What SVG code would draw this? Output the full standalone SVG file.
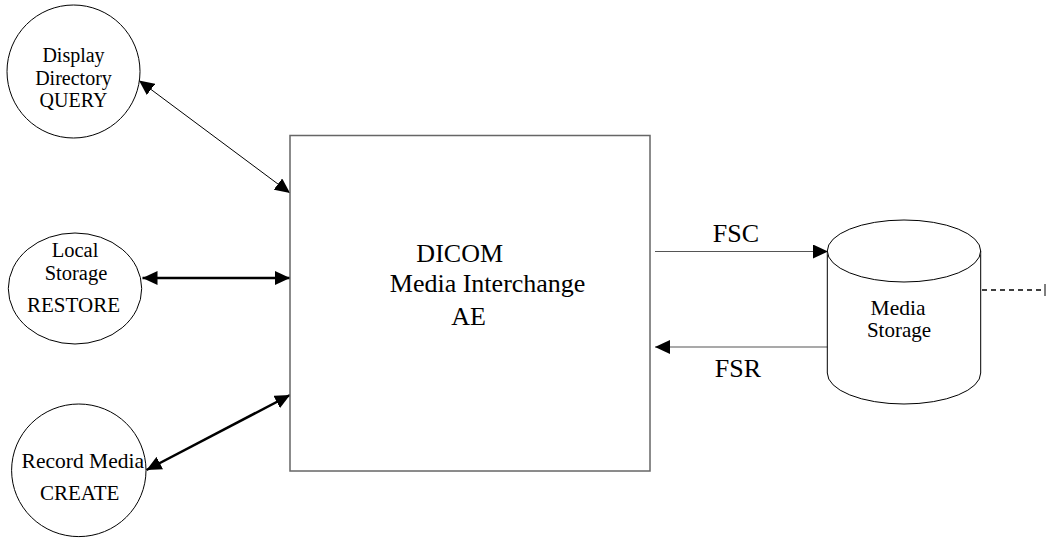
<svg xmlns="http://www.w3.org/2000/svg" width="1050" height="540" viewBox="0 0 1050 540">
<style>
  .node { fill: #fff; stroke: #000; stroke-width: 1; }
  .box { fill: #fff; stroke: #666; stroke-width: 1.5; }
  .t { font-family: "Liberation Serif", "Times New Roman", serif; fill: #000; text-anchor: middle; }
  .thin { stroke: #000; stroke-width: 1; fill: none; }
  .thick { stroke: #000; stroke-width: 2.5; fill: none; }
  .gray { stroke: #555; stroke-width: 1.2; fill: none; }
</style>
<defs>
  <marker id="ah" markerUnits="userSpaceOnUse" markerWidth="16" markerHeight="14" refX="15" refY="7" orient="auto-start-reverse">
    <path d="M0,0 L15,7 L0,14 z" fill="#000"/>
  </marker>
</defs>
<rect width="1050" height="540" fill="#fff"/>

<g id="connectors">
  <line class="thin" x1="139" y1="80.5" x2="290" y2="193" marker-start="url(#ah)" marker-end="url(#ah)"/>
  <line class="thick" x1="142.5" y1="278" x2="290" y2="278" marker-start="url(#ah)" marker-end="url(#ah)"/>
  <line class="thick" x1="146.5" y1="470" x2="290" y2="395" marker-start="url(#ah)" marker-end="url(#ah)"/>
  <line class="gray" x1="655" y1="251.5" x2="828" y2="251.5" marker-end="url(#ah)"/>
  <line class="gray" x1="828" y1="347" x2="655" y2="347" marker-end="url(#ah)"/>
  <line x1="982" y1="290" x2="1044" y2="290" stroke="#000" stroke-width="1.5" stroke-dasharray="5,4"/>
  <line x1="1045" y1="284" x2="1045" y2="296" stroke="#000" stroke-width="1"/>
  <text class="t" x="736" y="241.5" font-size="26">FSC</text>
  <text class="t" x="738" y="377" font-size="26">FSR</text>
</g>

<g id="query">
  <circle class="node" cx="73.5" cy="71.5" r="66.5"/>
  <text class="t" x="73.5" y="62" font-size="20">Display</text>
  <text class="t" x="73.5" y="85" font-size="20">Directory</text>
  <text class="t" x="73.5" y="107" font-size="20">QUERY</text>
</g>

<g id="restore">
  <ellipse class="node" cx="75" cy="288.5" rx="66.7" ry="55.5"/>
  <text class="t" x="75" y="256.5" font-size="20.5">Local</text>
  <text class="t" x="76" y="280" font-size="20.5">Storage</text>
  <text class="t" x="73.5" y="311.5" font-size="21">RESTORE</text>
</g>

<g id="create">
  <ellipse class="node" cx="78.8" cy="470.3" rx="67.2" ry="66.3"/>
  <text class="t" x="82.8" y="468.3" font-size="21.5">Record Media</text>
  <text class="t" x="79.7" y="500" font-size="21">CREATE</text>
</g>

<g id="ae">
  <rect class="box" x="290" y="135.5" width="360" height="335.5"/>
  <text class="t" x="459.7" y="261.7" font-size="26">DICOM</text>
  <text class="t" x="487.6" y="292.3" font-size="26">Media Interchange</text>
  <text class="t" x="468.5" y="325" font-size="26">AE</text>
</g>

<g id="media-storage">
  <path class="node" d="M827.3,251 L827.3,373 A76.7,31 0 0 0 980.7,373 L980.7,251"/>
  <ellipse class="node" cx="904" cy="251" rx="76.7" ry="31"/>
  <text class="t" x="898" y="315" font-size="21.5">Media</text>
  <text class="t" x="899" y="336.7" font-size="21">Storage</text>
</g>
</svg>
